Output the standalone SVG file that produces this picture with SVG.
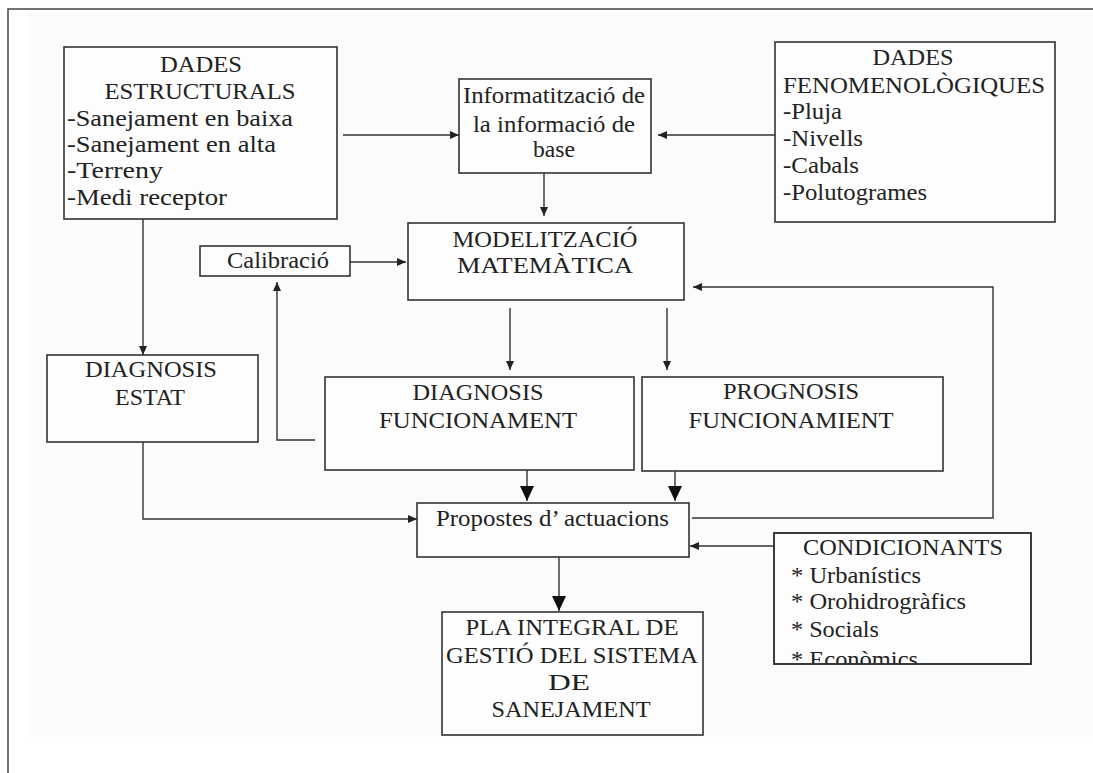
<svg xmlns="http://www.w3.org/2000/svg" width="1093" height="773" viewBox="0 0 1093 773">
<style>
.bx{fill:#fdfdfd;stroke:#333;stroke-width:1.6}
.t{font-family:'Liberation Serif','DejaVu Serif',serif;font-size:23.5px;fill:#222}
.c{text-anchor:middle}
.ln{fill:none;stroke:#333;stroke-width:1.4}
</style>
<defs>
<marker id="a" markerUnits="userSpaceOnUse" markerWidth="10" markerHeight="8" refX="9" refY="4" orient="auto"><path d="M0,0 L9,4 L0,8 Z" fill="#222"/></marker>
<marker id="b" markerUnits="userSpaceOnUse" markerWidth="16" markerHeight="14" refX="15" refY="7" orient="auto"><path d="M0,0 L15,7 L0,14 Z" fill="#111"/></marker>
<clipPath id="cc"><rect x="774" y="533" width="257" height="131"/></clipPath>
</defs>
<rect x="0" y="0" width="1093" height="773" fill="#ffffff"/>
<rect x="28" y="12" width="1065" height="725" fill="#fbfbfb"/>
<path d="M8,773 L8,9 L1093,9" fill="none" stroke="#444" stroke-width="1.5"/>

<g id="connectors">
<path class="ln" d="M343,135 L459,135" marker-end="url(#a)"/>
<path class="ln" d="M775,135 L658,135" marker-end="url(#a)"/>
<path class="ln" d="M544,173 L544,216" marker-end="url(#a)"/>
<path class="ln" d="M350,262 L406,262" marker-end="url(#a)"/>
<path class="ln" d="M315,440 L277,440 L277,282" marker-end="url(#a)"/>
<path class="ln" d="M143,219 L143,355" marker-end="url(#a)"/>
<path class="ln" d="M510,308 L510,370" marker-end="url(#a)"/>
<path class="ln" d="M667,308 L667,370" marker-end="url(#a)"/>
<path class="ln" d="M143,442 L143,519 L417,519" marker-end="url(#a)"/>
<path class="ln" d="M527,462 L527,501" marker-end="url(#b)"/>
<path class="ln" d="M675,462 L675,501" marker-end="url(#b)"/>
<path class="ln" d="M692,518 L993,518 L993,287 L693,287" marker-end="url(#a)"/>
<path class="ln" d="M774,546 L690,546" marker-end="url(#a)"/>
<path class="ln" d="M559,557 L559,611" marker-end="url(#b)"/>
</g>

<g id="dades-estructurals">
<rect class="bx" x="64" y="47" width="273" height="172"/>
<text class="t c" x="201" y="72" textLength="82" lengthAdjust="spacingAndGlyphs">DADES</text>
<text class="t c" x="200" y="99" textLength="191" lengthAdjust="spacingAndGlyphs">ESTRUCTURALS</text>
<text class="t" x="67" y="126" textLength="226" lengthAdjust="spacingAndGlyphs">-Sanejament en baixa</text>
<text class="t" x="67" y="152" textLength="209" lengthAdjust="spacingAndGlyphs">-Sanejament en alta</text>
<text class="t" x="67" y="178" textLength="96" lengthAdjust="spacingAndGlyphs">-Terreny</text>
<text class="t" x="67" y="205" textLength="160" lengthAdjust="spacingAndGlyphs">-Medi receptor</text>
</g>

<g id="informatitzacio">
<rect class="bx" x="459" y="79" width="192" height="94"/>
<text class="t c" x="554" y="103" textLength="182" lengthAdjust="spacingAndGlyphs">Informatització de</text>
<text class="t c" x="554" y="132" textLength="162" lengthAdjust="spacingAndGlyphs">la informació de</text>
<text class="t c" x="554" y="157" textLength="42" lengthAdjust="spacingAndGlyphs">base</text>
</g>

<g id="dades-fenomenologiques">
<rect class="bx" x="775" y="42" width="280" height="180"/>
<text class="t c" x="913" y="65" textLength="81" lengthAdjust="spacingAndGlyphs">DADES</text>
<text class="t c" x="914" y="93" textLength="262" lengthAdjust="spacingAndGlyphs">FENOMENOLÒGIQUES</text>
<text class="t" x="783" y="119" textLength="59" lengthAdjust="spacingAndGlyphs">-Pluja</text>
<text class="t" x="783" y="146" textLength="80" lengthAdjust="spacingAndGlyphs">-Nivells</text>
<text class="t" x="783" y="173" textLength="76" lengthAdjust="spacingAndGlyphs">-Cabals</text>
<text class="t" x="783" y="200" textLength="144" lengthAdjust="spacingAndGlyphs">-Polutogrames</text>
</g>

<g id="calibracio">
<rect class="bx" x="200" y="246" width="150" height="30"/>
<text class="t c" x="278" y="268" textLength="102" lengthAdjust="spacingAndGlyphs">Calibració</text>
</g>

<g id="modelitzacio">
<rect class="bx" x="408" y="223" width="276" height="77"/>
<text class="t c" x="545" y="247" textLength="185" lengthAdjust="spacingAndGlyphs">MODELITZACIÓ</text>
<text class="t c" x="545" y="273" textLength="176" lengthAdjust="spacingAndGlyphs">MATEMÀTICA</text>
</g>

<g id="diagnosis-estat">
<rect class="bx" x="47" y="355" width="211" height="87"/>
<text class="t c" x="151" y="377" textLength="132" lengthAdjust="spacingAndGlyphs">DIAGNOSIS</text>
<text class="t c" x="150" y="405" textLength="70" lengthAdjust="spacingAndGlyphs">ESTAT</text>
</g>

<g id="diagnosis-funcionament">
<rect class="bx" x="325" y="377" width="309" height="93"/>
<text class="t c" x="478" y="400" textLength="131" lengthAdjust="spacingAndGlyphs">DIAGNOSIS</text>
<text class="t c" x="478" y="428" textLength="198" lengthAdjust="spacingAndGlyphs">FUNCIONAMENT</text>
</g>

<g id="prognosis-funcionamient">
<rect class="bx" x="642" y="377" width="301" height="94"/>
<text class="t c" x="791" y="399" textLength="136" lengthAdjust="spacingAndGlyphs">PROGNOSIS</text>
<text class="t c" x="791" y="428" textLength="205" lengthAdjust="spacingAndGlyphs">FUNCIONAMIENT</text>
</g>

<g id="propostes">
<rect class="bx" x="417" y="503" width="272" height="54"/>
<text class="t" x="436" y="526" textLength="233" lengthAdjust="spacingAndGlyphs">Propostes d’ actuacions</text>
</g>

<g id="condicionants">
<rect class="bx" x="774" y="533" width="257" height="131"/>
<g clip-path="url(#cc)">
<text class="t c" x="903" y="555" textLength="200" lengthAdjust="spacingAndGlyphs">CONDICIONANTS</text>
<text class="t" x="791" y="583" textLength="130" lengthAdjust="spacingAndGlyphs">* Urbanístics</text>
<text class="t" x="791" y="609" textLength="175" lengthAdjust="spacingAndGlyphs">* Orohidrogràfics</text>
<text class="t" x="791" y="637" textLength="88" lengthAdjust="spacingAndGlyphs">* Socials</text>
<text class="t" x="791" y="667" textLength="127" lengthAdjust="spacingAndGlyphs">* Econòmics</text>
</g>
<rect x="774" y="533" width="257" height="131" fill="none" stroke="#333" stroke-width="1.6"/>
</g>

<g id="pla-integral">
<rect class="bx" x="442" y="612" width="261" height="123"/>
<text class="t c" x="572" y="635" textLength="213" lengthAdjust="spacingAndGlyphs">PLA INTEGRAL DE</text>
<text class="t c" x="572" y="663" textLength="252" lengthAdjust="spacingAndGlyphs">GESTIÓ DEL SISTEMA</text>
<text class="t c" x="569" y="690" textLength="42" lengthAdjust="spacingAndGlyphs">DE</text>
<text class="t c" x="571" y="717" textLength="159" lengthAdjust="spacingAndGlyphs">SANEJAMENT</text>
</g>
</svg>
